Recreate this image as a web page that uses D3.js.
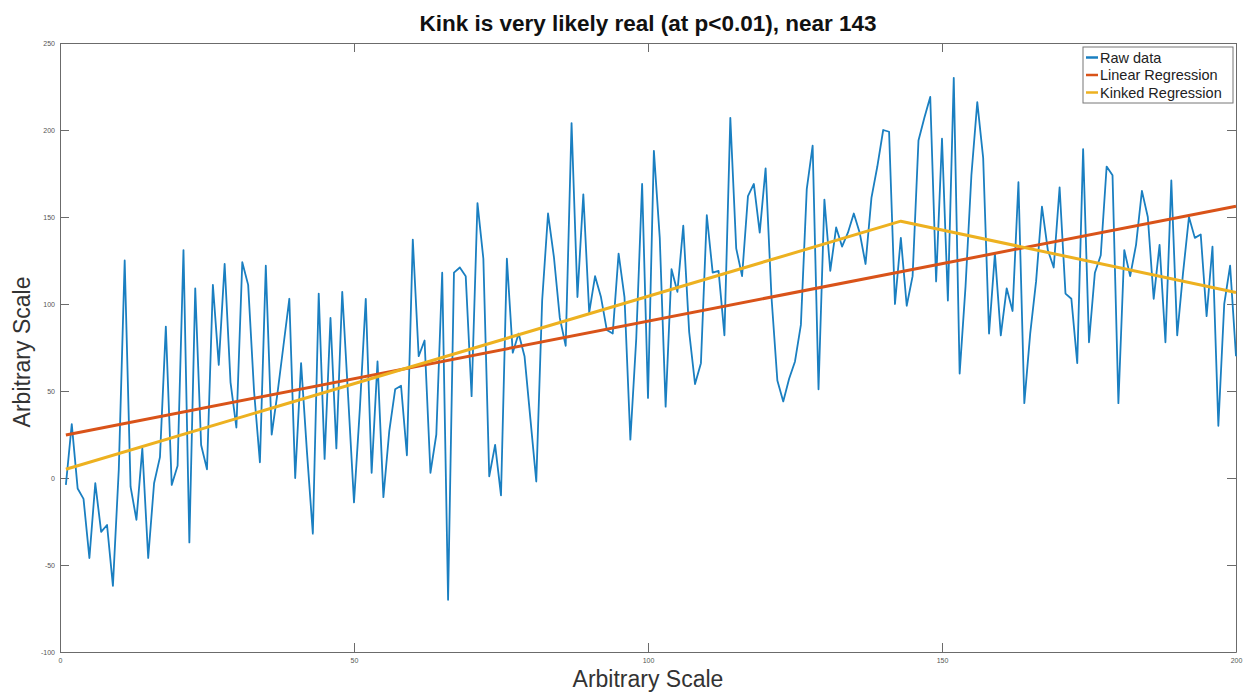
<!DOCTYPE html>
<html>
<head>
<meta charset="utf-8">
<script src="https://cdn.jsdelivr.net/npm/d3@7"></script>
<style>
  html, body { margin: 0; padding: 0; background: #fff; }
  svg { display: block; font-family: "Liberation Sans", Arial, Helvetica, sans-serif; }
</style>
</head>
<body>
<svg id="chart" width="1244" height="693"></svg>
<script>
// ---------- data ----------
const titleText = "Kink is very likely real (at p<0.01), near 143";
const xLabel = "Arbitrary Scale";
const yLabel = "Arbitrary Scale";

const rawValues = [
  -4, 31, -6, -12, -46, -3, -31, -27, -62, 5,
  125, -5, -24, 17, -46, -3, 12, 87, -4, 7,
  131, -37, 109, 19, 5, 111, 65, 123, 55, 29,
  124, 111, 50, 9, 122, 25, 49, 76, 103, 0,
  66, 15, -32, 106, 11, 92, 17, 107, 47, -14,
  40, 103, 3, 67, -11, 27, 51, 53, 13, 137,
  70, 79, 3, 25, 118, -70, 118, 121, 116, 47,
  158, 126, 1, 19, -10, 126, 72, 83, 70, 34,
  -2, 102, 152, 127, 92, 76, 204, 104, 163, 95,
  116, 104, 85, 83, 129, 104, 22, 80, 169, 46,
  188, 138, 41, 120, 107, 145, 84, 54, 66, 151,
  118, 119, 82, 207, 132, 116, 162, 169, 141, 178,
  104, 56, 44, 57, 67, 88, 166, 191, 51, 160,
  119, 144, 133, 141, 152, 141, 123, 161, 179, 200,
  199, 100, 138, 99, 116, 194, 207, 219, 113, 195,
  102, 230, 60, 110, 174, 216, 184, 83, 129, 82,
  109, 96, 170, 43, 83, 113, 156, 131, 121, 167,
  106, 103, 66, 189, 78, 118, 128, 179, 174, 43,
  131, 116, 134, 165, 150, 103, 134, 78, 171, 82,
  118, 150, 138, 140, 93, 133, 30, 100, 122, 70
];

const linearX = [1, 200];
const linearY = [24.7, 156.2];

const kinkX = [1, 143, 200];
const kinkY = [5.0, 147.6, 106.6];

const xTicks = [0, 50, 100, 150, 200];
const yTicks = [-100, -50, 0, 50, 100, 150, 200, 250];

const seriesNames = ["Raw data", "Linear Regression", "Kinked Regression"];
const seriesColors = ["#1a7fc1", "#D95319", "#EDB120"];

// ---------- layout ----------
const svg = d3.select("#chart");
const W = 1244, H = 693;
const m = { left: 60, top: 43, right: 8, bottom: 41 };
const x = d3.scaleLinear().domain([0, 200]).range([m.left, W - m.right]);
const y = d3.scaleLinear().domain([-100, 250]).range([H - m.bottom, m.top]);

svg.append("rect").attr("width", W).attr("height", H).attr("fill", "#fff");

const axisColor = "#6b6b6b";
const tickLen = 9;
const fmt = d => String(d);

function styleAxis(g) {
  g.selectAll("path.domain").attr("stroke", axisColor).attr("stroke-width", 1);
  g.selectAll(".tick line").attr("stroke", axisColor).attr("stroke-width", 1);
  g.selectAll(".tick text").attr("fill", "#555").style("font-size", "7px");
}

// axes (box with inward ticks on all sides)
svg.append("g").attr("transform", `translate(0,${y(-100)})`)
  .call(d3.axisBottom(x).tickValues(xTicks).tickFormat(fmt).tickSizeInner(-tickLen).tickSizeOuter(0).tickPadding(6))
  .call(styleAxis);
svg.append("g").attr("transform", `translate(0,${y(250)})`)
  .call(d3.axisTop(x).tickValues(xTicks).tickFormat("").tickSizeInner(-tickLen).tickSizeOuter(0))
  .call(styleAxis);
svg.append("g").attr("transform", `translate(${x(0)},0)`)
  .call(d3.axisLeft(y).tickValues(yTicks).tickFormat(fmt).tickSizeInner(-tickLen).tickSizeOuter(0).tickPadding(5))
  .call(styleAxis);
svg.append("g").attr("transform", `translate(${x(200)},0)`)
  .call(d3.axisRight(y).tickValues(yTicks).tickFormat("").tickSizeInner(-tickLen).tickSizeOuter(0))
  .call(styleAxis);

// ---------- lines ----------
const line = d3.line().x(d => x(d[0])).y(d => y(d[1]));

const rawPts = rawValues.map((v, i) => [i + 1, v]);
svg.append("path").datum(rawPts)
  .attr("fill", "none").attr("stroke", seriesColors[0]).attr("stroke-width", 1.8)
  .attr("stroke-linejoin", "round").attr("d", line);

svg.append("path").datum(linearX.map((v, i) => [v, linearY[i]]))
  .attr("fill", "none").attr("stroke", seriesColors[1]).attr("stroke-width", 3)
  .attr("d", line);

svg.append("path").datum(kinkX.map((v, i) => [v, kinkY[i]]))
  .attr("fill", "none").attr("stroke", seriesColors[2]).attr("stroke-width", 3)
  .attr("stroke-linejoin", "round").attr("d", line);

// ---------- text ----------
svg.append("text").attr("x", (x(0) + x(200)) / 2).attr("y", 31)
  .attr("text-anchor", "middle").style("font-size", "22.5px").style("font-weight", "bold")
  .attr("fill", "#111").text(titleText);

svg.append("text").attr("x", (x(0) + x(200)) / 2).attr("y", 687)
  .attr("text-anchor", "middle").style("font-size", "23px").attr("fill", "#333").text(xLabel);

svg.append("text").attr("transform", `translate(30,352) rotate(-90)`)
  .attr("text-anchor", "middle").style("font-size", "23px").attr("fill", "#333").text(yLabel);

// ---------- legend ----------
const lg = svg.append("g");
const lgX = 1083, lgY = 47, lgW = 150, lgH = 56;
lg.append("rect").attr("x", lgX).attr("y", lgY).attr("width", lgW).attr("height", lgH)
  .attr("fill", "#fff").attr("stroke", "#777").attr("stroke-width", 1);
seriesNames.forEach((name, i) => {
  const cy = lgY + 10.5 + i * 17.5;
  lg.append("line").attr("x1", lgX + 3).attr("x2", lgX + 15).attr("y1", cy).attr("y2", cy)
    .attr("stroke", seriesColors[i]).attr("stroke-width", 2.5);
  lg.append("text").attr("x", lgX + 17).attr("y", cy + 5)
    .style("font-size", "14.5px").attr("fill", "#222").text(name);
});
</script>
</body>
</html>
